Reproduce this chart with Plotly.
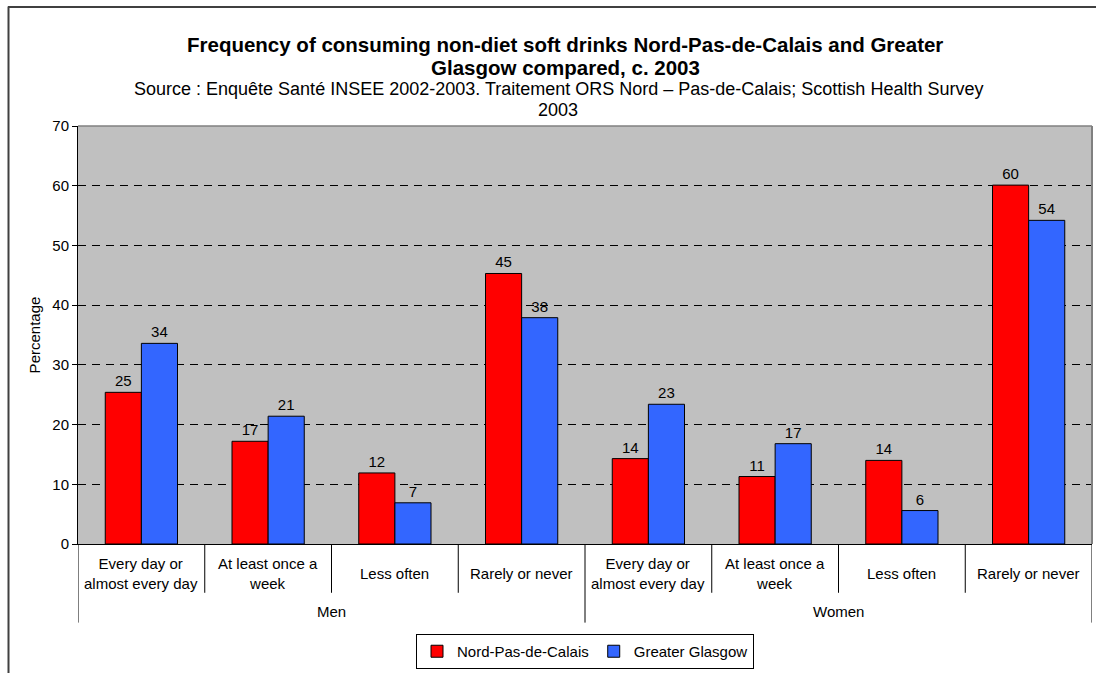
import plotly.graph_objects as go

# Survey answers, grouped by sex
groups = ["Men", "Women"]
frequencies = [
    "Every day or<br>almost every day",
    "At least once a<br>week",
    "Less often",
    "Rarely or never",
]
categories = [(g, f) for g in groups for f in frequencies]

# Percentage of respondents per answer
nord_pas_de_calais = [25.4, 17.2, 11.9, 45.3, 14.3, 11.3, 14.0, 60.1]
greater_glasgow = [33.6, 21.4, 6.9, 37.9, 23.4, 16.8, 5.6, 54.2]

y_ticks = [0, 10, 20, 30, 40, 50, 60, 70]

title_lines = [
    "Frequency of consuming non-diet soft drinks Nord-Pas-de-Calais and Greater",
    "Glasgow compared, c. 2003",
]
subtitle_lines = [
    "Source : Enquête Santé INSEE 2002-2003. Traitement ORS Nord – Pas-de-Calais; Scottish Health Survey",
    "2003",
]

FONT = "Liberation Sans, Arial, sans-serif"
W, H = 1096, 673
L, R, T, B = 78, 4, 126, 127
PW, PH = W - L - R, H - T - B

def px_x(px):
    return (px - L) / PW

def px_y(py):
    return (H - B - py) / PH

xpos = list(range(len(categories)))

fig = go.Figure()
fig.add_trace(go.Bar(
    x=xpos, y=nord_pas_de_calais, name="Nord-Pas-de-Calais",
    marker=dict(color="#FF0000", line=dict(color="#000000", width=1)),
    texttemplate="%{y:.0f}", textposition="outside",
    textfont=dict(family=FONT, size=15, color="#000000"),
    cliponaxis=False,
))
fig.add_trace(go.Bar(
    x=xpos, y=greater_glasgow, name="Greater Glasgow",
    marker=dict(color="#3366FF", line=dict(color="#000000", width=1)),
    texttemplate="%{y:.0f}", textposition="outside",
    textfont=dict(family=FONT, size=15, color="#000000"),
    cliponaxis=False,
))

annotations = []
# inner category labels
for i, (g, f) in enumerate(categories):
    annotations.append(dict(
        x=i, y=px_y(576), xref="x", yref="paper", text=f, showarrow=False,
        xanchor="center", yanchor="middle",
        font=dict(family=FONT, size=15, color="#000000"),
    ))
# outer group labels
n_per = len(frequencies)
for j, g in enumerate(groups):
    annotations.append(dict(
        x=j * n_per + (n_per - 1) / 2, y=px_y(614), xref="x", yref="paper",
        text=g, showarrow=False, xanchor="center", yanchor="middle",
        font=dict(family=FONT, size=15, color="#000000"),
    ))
# title, one line per annotation
for line, yc in zip(title_lines, [44, 67]):
    annotations.append(dict(
        x=px_x(565), y=px_y(yc), xref="paper", yref="paper",
        text="<b>" + line + "</b>", showarrow=False,
        xanchor="center", yanchor="middle",
        font=dict(family=FONT, size=20.5, color="#000000"),
    ))
# source line
for line, yc in zip(subtitle_lines, [89, 110]):
    annotations.append(dict(
        x=px_x(558), y=px_y(yc), xref="paper", yref="paper",
        text=line, showarrow=False, xanchor="center", yanchor="middle",
        font=dict(family=FONT, size=18, color="#000000"),
    ))

shapes = []
# separators between answer categories
for i in range(len(categories) + 1):
    outer = i % n_per == 0
    shapes.append(dict(
        type="line", xref="x", yref="paper",
        x0=i - 0.5, x1=i - 0.5, y0=0, y1=px_y(625 if outer else 595),
        line=dict(color="#000000", width=1),
    ))
# plot area top and right edges
shapes.append(dict(type="line", xref="paper", yref="paper", x0=0, x1=1, y0=1, y1=1,
                   line=dict(color="#808080", width=1.5)))
shapes.append(dict(type="line", xref="paper", yref="paper", x0=1, x1=1, y0=0, y1=1,
                   line=dict(color="#808080", width=2)))
# chart frame
shapes.append(dict(type="line", xref="paper", yref="paper",
                   x0=px_x(8), x1=px_x(W + 20), y0=px_y(6.5), y1=px_y(6.5),
                   line=dict(color="#404040", width=2)))
shapes.append(dict(type="line", xref="paper", yref="paper",
                   x0=px_x(8.5), x1=px_x(8.5), y0=px_y(6), y1=px_y(H + 20),
                   line=dict(color="#404040", width=2)))

fig.update_layout(
    width=W, height=H,
    margin=dict(l=L, r=R, t=T, b=B, pad=0),
    paper_bgcolor="#FFFFFF", plot_bgcolor="#C0C0C0",
    font=dict(family=FONT, size=15, color="#000000"),
    barmode="group", bargap=0.43, bargroupgap=0,
    xaxis=dict(
        range=[-0.5, len(categories) - 0.5], showticklabels=False, ticks="",
        showgrid=False, zeroline=False, showline=True, linecolor="#000000", linewidth=1,
    ),
    yaxis=dict(
        range=[0, 70], tickvals=y_ticks, ticks="outside", ticklen=5, tickcolor="#000000",
        showline=True, linecolor="#000000", linewidth=1,
        showgrid=True, gridcolor="#000000", gridwidth=1, griddash="8px,6px",
        zeroline=False,
        tickfont=dict(family=FONT, size=15, color="#000000"),
        title=dict(text="Percentage", standoff=8, font=dict(family=FONT, size=15, color="#000000")),
    ),
    legend=dict(
        orientation="h", x=0.5, xanchor="center", y=px_y(654), yanchor="middle",
        bgcolor="#FFFFFF", bordercolor="#000000", borderwidth=1,
        font=dict(family=FONT, size=15, color="#000000"),
        itemwidth=30, tracegroupgap=0,
    ),
    annotations=annotations,
    shapes=shapes,
)

fig.write_html("out.html")
